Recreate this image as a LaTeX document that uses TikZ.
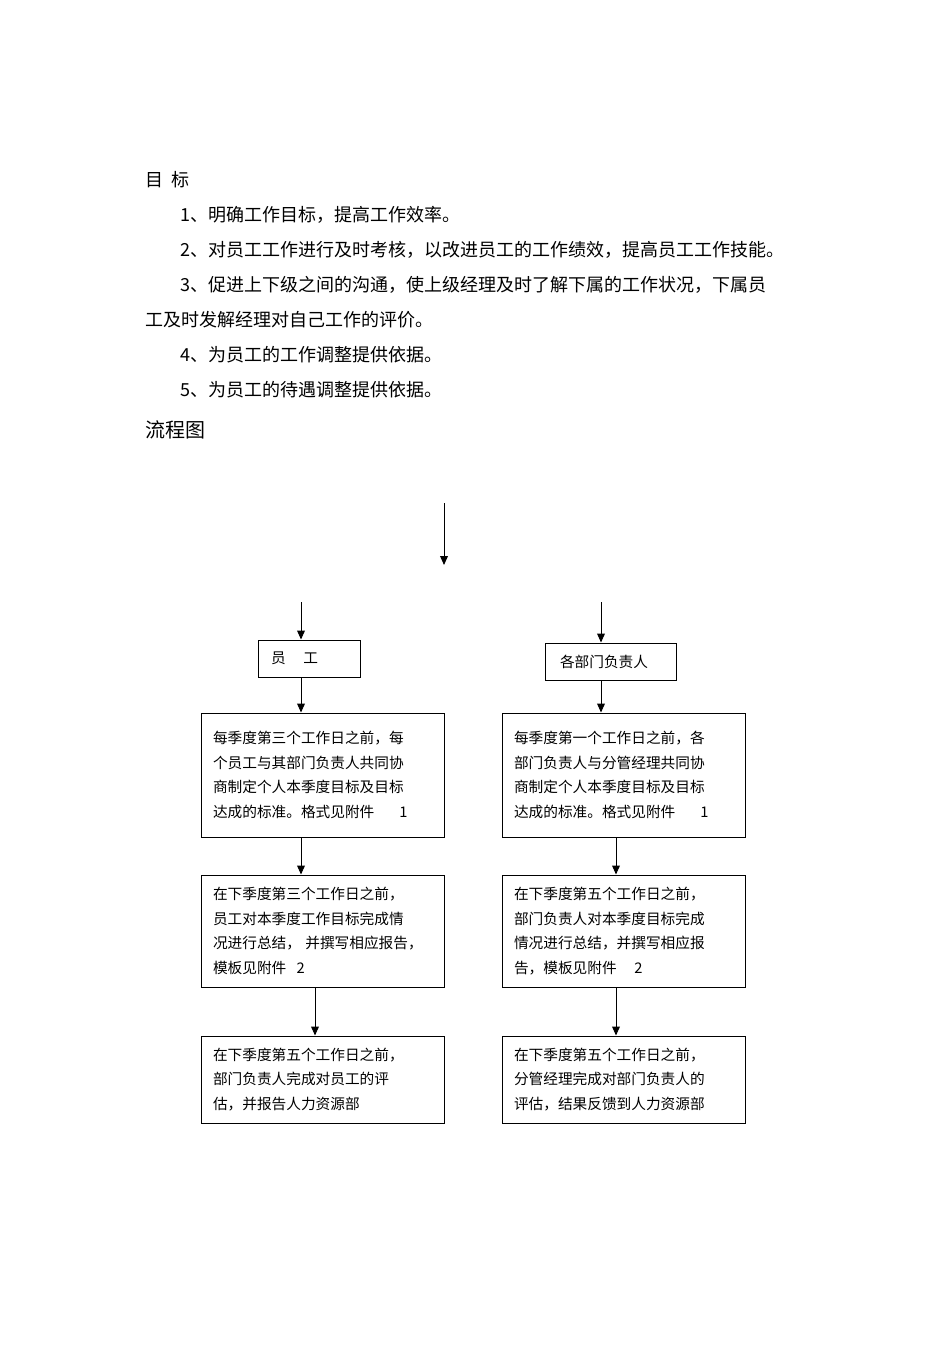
\documentclass[tikz,border=0pt]{standalone}
\usepackage{fontspec}
\setmainfont{Noto Sans CJK SC}
\usetikzlibrary{arrows.meta}

\tikzset{every picture/.style={line width=0.75pt}}
\tikzset{
	flow box/.style={draw, rectangle, align=left, inner ysep=0pt, inner xsep=9pt, text width=164.25pt, font=\fontsize{11}{18.4}\selectfont},
	head box/.style={draw, rectangle, align=left, inner ysep=0pt, minimum height=27.75pt, font=\fontsize{11}{13}\selectfont},
	flow arrow/.style={-{Triangle[length=6.75pt,width=5.85pt]}},
	body text/.style={anchor=west, inner sep=0pt, font=\fontsize{13.5}{16}\selectfont}}

\begin{document}
\begin{tikzpicture}[x=0.75pt,y=0.75pt,yscale=-1,xscale=1]
	\useasboundingbox (0,0) rectangle (950,1345); %page of 950 x 1345

	% Goals
	\node[body text] (goal) at (145,180) {目\hspace{0.45em}标};
	\node[body text] (goalA) at (180,215) {1、明确工作目标，提高工作效率。};
	\node[body text] (goalB) at (180,250) {2、对员工工作进行及时考核，以改进员工的工作绩效，提高员工工作技能。};
	\node[body text] (goalC) at (180,285) {3、促进上下级之间的沟通，使上级经理及时了解下属的工作状况，下属员};
	\node[body text] (goalCc) at (145,320) {工及时发解经理对自己工作的评价。};
	\node[body text] (goalD) at (180,355) {4、为员工的工作调整提供依据。};
	\node[body text] (goalE) at (180,390) {5、为员工的待遇调整提供依据。};
	\node[body text, font=\fontsize{15}{18}\selectfont] (chart) at (145,430) {流程图};

	% Top arrow
	\coordinate (topS) at (444,503);
	\coordinate (topE) at (444,565);
	\draw[flow arrow] (topS) -- (topE);

	% Header boxes
	\node[head box, inner xsep=9.75pt, text width=57pt] (headL) at (309,658.5) {员\hspace{1.2em}工};
	\node[head box, inner xsep=11.25pt, text width=75.75pt] (headR) at (610.5,661.5) {各部门负责人};

	% Left column
	\node[flow box, minimum height=93pt] (boxL1) at (322.5,775) {每季度第三个工作日之前，每\\个员工与其部门负责人共同协\\商制定个人本季度目标及目标\\达成的标准。格式见附件\hspace{1.7em}1};
	\node[flow box, minimum height=84pt] (boxL2) at (322.5,931) {在下季度第三个工作日之前，\\员工对本季度工作目标完成情\\况进行总结，\hspace{0.3em}并撰写相应报告，\\模板见附件\hspace{0.7em}2};
	\node[flow box, minimum height=65.25pt] (boxL3) at (322.5,1079.5) {在下季度第五个工作日之前，\\部门负责人完成对员工的评\\估，并报告人力资源部};

	% Right column
	\node[flow box, minimum height=93pt] (boxR1) at (623.5,775) {每季度第一个工作日之前，各\\部门负责人与分管经理共同协\\商制定个人本季度目标及目标\\达成的标准。格式见附件\hspace{1.7em}1};
	\node[flow box, minimum height=84pt] (boxR2) at (623.5,931) {在下季度第五个工作日之前，\\部门负责人对本季度目标完成\\情况进行总结，并撰写相应报\\告，模板见附件\hspace{1.2em}2};
	\node[flow box, minimum height=65.25pt] (boxR3) at (623.5,1079.5) {在下季度第五个工作日之前，\\分管经理完成对部门负责人的\\评估，结果反馈到人力资源部};

	% Connectors
	\coordinate (inL) at (301,602);
	\coordinate (inR) at (601,602);
	\coordinate (midL) at (315,0);
	\coordinate (midR) at (616,0);
	\draw[flow arrow] (inL) -- (inL |- headL.north);
	\draw[flow arrow] (inR) -- (inR |- headR.north);
	\draw[flow arrow] (headL.south -| inL) -- (boxL1.north -| inL);
	\draw[flow arrow] (headR.south -| inR) -- (boxR1.north -| inR);
	\draw[flow arrow] (boxL1.south -| inL) -- (boxL2.north -| inL);
	\draw[flow arrow] (boxR1.south -| midR) -- (boxR2.north -| midR);
	\draw[flow arrow] (boxL2.south -| midL) -- (boxL3.north -| midL);
	\draw[flow arrow] (boxR2.south -| midR) -- (boxR3.north -| midR);

\end{tikzpicture}
\end{document}
